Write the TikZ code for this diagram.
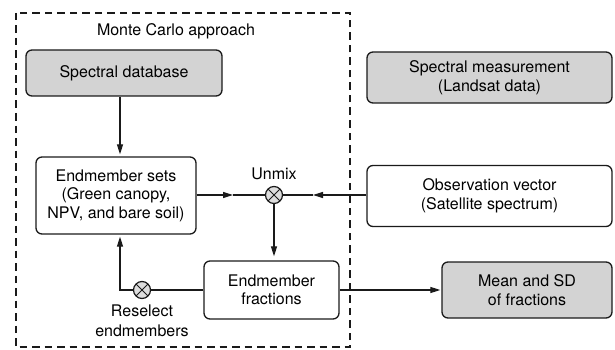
\documentclass[tikz,border=0pt]{standalone}
\usepackage{fontspec}
\setmainfont{TeX Gyre Heros}
\usetikzlibrary{arrows.meta}
\definecolor{fillG}{HTML}{D3D3D3}
\definecolor{knotG}{HTML}{DDDDDD}
\definecolor{inkB}{HTML}{1A1A1A}

\tikzset{
  box/.style={draw=inkB,line width=1.3pt,rounded corners=6pt,align=center,
    inner sep=0pt,font=\fontsize{16}{18.5}\selectfont},
  grey box/.style={box,fill=fillG},
  label text/.style={align=center,inner sep=0pt,font=\fontsize{16}{19.5}\selectfont},
  knot/.style={circle,draw=inkB,fill=knotG,line width=1.2pt,minimum size=17pt,inner sep=0pt,
    path picture={\draw[inkB,line width=1pt]
      (path picture bounding box.south west) -- (path picture bounding box.north east)
      (path picture bounding box.north west) -- (path picture bounding box.south east);}},
  link/.style={draw=inkB,line width=1.2pt},
}

\begin{document}
\begin{tikzpicture}[x=1pt,y=-1pt,>={Triangle[length=10pt,width=6pt]}]
  \useasboundingbox (0,0) rectangle (615,350);
  % Monte Carlo frame
  \draw[inkB,line width=1.1pt,dash pattern=on 7.5pt off 5pt] (16,13) rectangle (350,347);
  \node[label text] (mc) at (176,31) {Monte Carlo approach};

  \node[grey box,minimum width=196pt,minimum height=46pt] (db) at (124,73) {Spectral database};
  \node[box,minimum width=160pt,minimum height=77pt] (sets) at (116,195.5)
       {Endmember sets\\(Green canopy,\\NPV, and bare soil)};
  \node[knot] (mix) at (274,195) {};
  \node[label text,above=6pt] (mixlbl) at (mix.north) {Unmix};
  \node[box,minimum width=135pt,minimum height=58pt] (frac) at (271.5,290) {Endmember\\fractions};
  \node[knot] (resel) at (142,290) {};
  \node[label text,below=6pt] (resellbl) at (resel.south) {Reselect\\endmembers};
  \coordinate (turn) at (120,290);
  \coordinate (setstip) at (233,195);
  \coordinate (obstip) at (313,195);

  \node[grey box,minimum width=245pt,minimum height=51pt] (meas) at (489.5,77.5)
       {Spectral measurement\\(Landsat data)};
  \node[box,minimum width=245pt,minimum height=61pt] (obs) at (489.5,196)
       {Observation vector\\(Satellite spectrum)};
  \node[grey box,minimum width=170pt,minimum height=56pt] (mean) at (527,290)
       {Mean and SD\\of fractions};

  % connectors
  \draw[link,->,shorten >=2pt] (turn |- db.south) -- (turn |- sets.north);
  \draw[link,->] (sets.east |- mix) -- (setstip);
  \draw[link] (setstip) -- (mix.west);
  \draw[link,->] (obs.west |- mix) -- (obstip);
  \draw[link] (obstip) -- (mix.east);
  \draw[link,->,shorten >=4pt] (mix.south) -- (mix.south |- frac.north);
  \draw[link] (frac.west) -- (resel.east);
  \draw[link,->,shorten >=2pt] (resel.west) -- (turn) -- (turn |- sets.south);
  \draw[link,->,shorten >=1pt] (frac.east) -- (mean.west);
\end{tikzpicture}
\end{document}
